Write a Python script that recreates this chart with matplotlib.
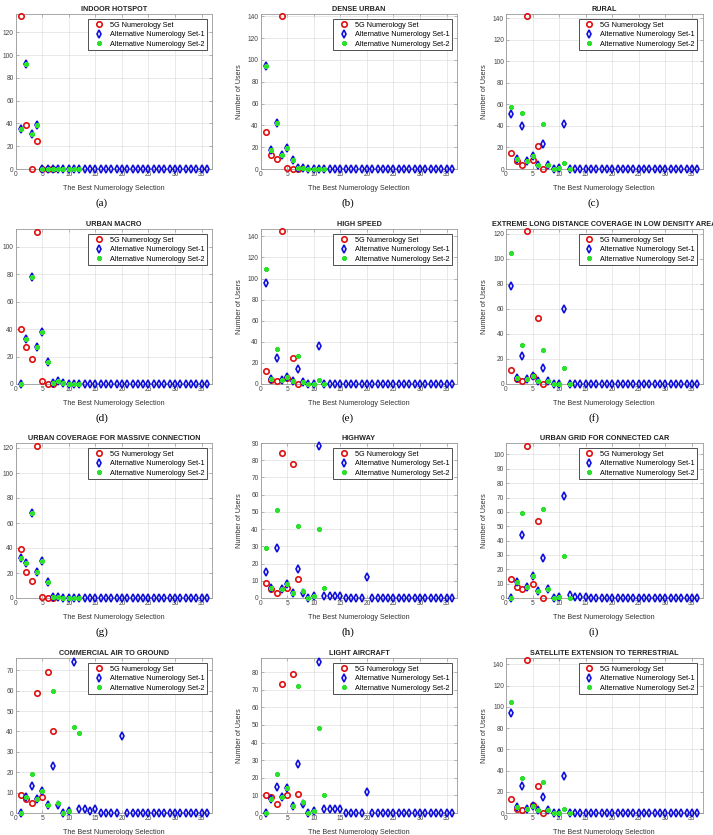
import matplotlib.pyplot as plt
import numpy as np
from matplotlib.ticker import MultipleLocator

plt.rcParams['font.family'] = ['Liberation Sans', 'DejaVu Sans']

# Titulos de cada escenario
titles = ['INDOOR HOTSPOT', 'DENSE URBAN', 'RURAL',
          'URBAN MACRO', 'HIGH SPEED',
          'EXTREME LONG DISTANCE COVERAGE IN LOW DENSITY AREA',
          'URBAN COVERAGE FOR MASSIVE CONNECTION', 'HIGHWAY',
          'URBAN GRID FOR CONNECTED CAR',
          'COMMERCIAL AIR TO GROUND', 'LIGHT AIRCRAFT',
          'SATELLITE EXTENSION TO TERRESTRIAL']
captions = ['(a)', '(b)', '(c)', '(d)', '(e)', '(f)', '(g)', '(h)', '(i)']
series_names = ['5G Numerology Set', 'Alternative Numerology Set-1',
                'Alternative Numerology Set-2']

# (a) indoor hotspot
indoor_5g = [134, 39, 0, 25, 0, 0, 0]
indoor_set1 = [35, 92, 31, 39, 0, 0, 0, 0, 0, 0, 0, 0,
               0, 0, 0, 0, 0, 0, 0, 0, 0, 0, 0, 0,
               0, 0, 0, 0, 0, 0, 0, 0, 0, 0, 0, 0]
indoor_set2 = [35, 92, 31, 39, 0, 0, 0, 0, 0, 0, 0, 0]

# (b) dense urban
dense_5g = [34, 13, 9, 140, 1, 0, 0]
dense_set1 = [94, 17, 42, 13, 19, 8, 1, 1, 0, 0, 0, 0,
              0, 0, 0, 0, 0, 0, 0, 0, 0, 0, 0, 0,
              0, 0, 0, 0, 0, 0, 0, 0, 0, 0, 0, 0]
dense_set2 = [94, 17, 42, 13, 19, 8, 1, 1, 0, 0, 0, 0]

# (c) rural
rural_5g = [15, 7, 4, 142, 8, 21, 0]
rural_set1 = [51, 9, 40, 7, 12, 4, 23, 4, 0, 1, 42, 0,
              0, 0, 0, 0, 0, 0, 0, 0, 0, 0, 0, 0,
              0, 0, 0, 0, 0, 0, 0, 0, 0, 0, 0, 0]
rural_set2 = [58, 9, 52, 7, 12, 4, 42, 4, 0, 1, 6, 0]

# (d) urban macro
macro_5g = [40, 27, 18, 111, 2, 0, 0]
macro_set1 = [0, 33, 78, 27, 38, 16, 1, 2, 1, 0, 0, 0,
              0, 0, 0, 0, 0, 0, 0, 0, 0, 0, 0, 0,
              0, 0, 0, 0, 0, 0, 0, 0, 0, 0, 0, 0]
macro_set2 = [0, 33, 78, 27, 38, 16, 1, 2, 1, 0, 0, 0]

# (e) high speed
speed_5g = [12, 4, 3, 145, 6, 25, 0]
speed_set1 = [96, 5, 25, 4, 7, 3, 14, 2, 0, 0, 36, 0,
              0, 0, 0, 0, 0, 0, 0, 0, 0, 0, 0, 0,
              0, 0, 0, 0, 0, 0, 0, 0, 0, 0, 0, 0]
speed_set2 = [109, 5, 33, 4, 7, 3, 27, 2, 0, 0, 4, 0]

# (f) extreme long distance
extreme_5g = [11, 4, 2, 122, 6, 53, 0]
extreme_set1 = [78, 5, 22, 4, 6, 2, 13, 2, 0, 0, 60, 0,
                0, 0, 0, 0, 0, 0, 0, 0, 0, 0, 0, 0,
                0, 0, 0, 0, 0, 0, 0, 0, 0, 0, 0, 0]
extreme_set2 = [105, 5, 31, 4, 6, 2, 27, 2, 0, 0, 13, 0]

# (g) urban coverage for massive connection
massive_5g = [39, 21, 14, 122, 1, 0, 0]
massive_set1 = [32, 28, 68, 21, 30, 13, 1, 1, 0, 0, 0, 0,
                0, 0, 0, 0, 0, 0, 0, 0, 0, 0, 0, 0,
                0, 0, 0, 0, 0, 0, 0, 0, 0, 0, 0, 0]
massive_set2 = [32, 28, 68, 21, 30, 13, 1, 1, 0, 0, 0, 0]

# (h) highway
highway_5g = [9, 5, 3, 84, 6, 78, 11]
highway_set1 = [15, 6, 29, 5, 8, 3, 17, 3, 0, 1, 88, 1,
                1, 1, 1, 0, 0, 0, 0, 12, 0, 0, 0, 0,
                0, 0, 0, 0, 0, 0, 0, 0, 0, 0, 0, 0]
highway_set2 = [29, 6, 51, 5, 8, 3, 42, 4, 0, 1, 40, 6]

# (i) urban grid for connected car
grid_5g = [13, 8, 6, 106, 10, 54, 0]
grid_set1 = [0, 11, 44, 8, 15, 5, 28, 6, 0, 1, 71, 2,
             1, 1, 1, 0, 0, 0, 0, 0, 0, 0, 0, 0,
             0, 0, 0, 0, 0, 0, 0, 0, 0, 0, 0, 0]
grid_set2 = [0, 11, 59, 8, 15, 5, 62, 6, 0, 1, 29, 0]

# (j) commercial air to ground
air_5g = [9, 7, 5, 59, 8, 69, 40]
air_set1 = [0, 8, 13, 7, 11, 4, 23, 4, 0, 1, 74, 2,
            2, 1, 2, 0, 0, 0, 0, 38, 0, 0, 0, 0,
            0, 0, 0, 0, 0, 0, 0, 0, 0, 0, 0, 0]
air_set2 = [0, 8, 19, 7, 11, 4, 60, 5, 0, 1, 42, 39]

# (k) light aircraft
light_5g = [10, 9, 5, 73, 10, 79, 11]
light_set1 = [0, 8, 15, 9, 14, 4, 28, 5, 0, 1, 86, 2,
              2, 2, 2, 0, 0, 0, 0, 12, 0, 0, 0, 0,
              0, 0, 0, 0, 0, 0, 0, 0, 0, 0, 0, 0]
light_set2 = [0, 8, 22, 9, 14, 4, 72, 6, 0, 1, 48, 10]

# (l) satellite extension to terrestrial
sat_5g = [13, 4, 3, 144, 8, 25, 0]
sat_set1 = [94, 6, 25, 4, 7, 3, 15, 3, 0, 0, 35, 0,
            0, 0, 0, 0, 0, 0, 0, 0, 0, 0, 0, 0,
            0, 0, 0, 0, 0, 0, 0, 0, 0, 0, 0, 0]
sat_set2 = [105, 6, 33, 4, 7, 3, 29, 3, 0, 0, 4, 0]

panels = [
    (indoor_5g, indoor_set1, indoor_set2),
    (dense_5g, dense_set1, dense_set2),
    (rural_5g, rural_set1, rural_set2),
    (macro_5g, macro_set1, macro_set2),
    (speed_5g, speed_set1, speed_set2),
    (extreme_5g, extreme_set1, extreme_set2),
    (massive_5g, massive_set1, massive_set2),
    (highway_5g, highway_set1, highway_set2),
    (grid_5g, grid_set1, grid_set2),
    (air_5g, air_set1, air_set2),
    (light_5g, light_set1, light_set2),
    (sat_5g, sat_set1, sat_set2),
]

# Geometria en pixeles (figura 713x835)
W, H = 713, 835
col_left = [15.7, 260.7, 506]
row_top = [14, 229, 443, 658]
ax_w, ax_h = 196.5, 155
cap_x = [102, 348, 594]

fig = plt.figure(figsize=(W / 100, H / 100), dpi=100)

for i, (v5g, v1, v2) in enumerate(panels):
    r, c = divmod(i, 3)
    ax = fig.add_axes([col_left[c] / W, 1 - (row_top[r] + ax_h) / H,
                       ax_w / W, ax_h / H])

    ax.plot(np.arange(1, len(v5g) + 1), v5g, linestyle='none', marker='o',
            ms=3.9, mfc='none', mec='#e01010', mew=1.2, clip_on=False,
            label=series_names[0], zorder=3)
    ax.plot(np.arange(1, len(v1) + 1), v1, linestyle='none', marker='d',
            ms=4.2, mfc='none', mec='#1010d8', mew=1.2, clip_on=False,
            label=series_names[1], zorder=4)
    ax.plot(np.arange(1, len(v2) + 1), v2, linestyle='none', marker=(8, 2, 0),
            ms=3.4, mec='#2ee02e', mew=1.0, clip_on=False,
            label=series_names[2], zorder=5)

    ymax = max(max(v5g), max(v1), max(v2)) + 2
    ax.set_xlim(0, 37)
    ax.set_ylim(0, ymax)
    ax.xaxis.set_major_locator(MultipleLocator(5))
    ax.yaxis.set_major_locator(MultipleLocator(10 if ymax < 110 else 20))

    ax.grid(True, color='#e0e0e0', lw=0.5)
    ax.set_axisbelow(True)
    for s in ax.spines.values():
        s.set_color('#9a9a9a')
        s.set_linewidth(0.6)
    ax.tick_params(direction='in', length=2, width=0.5, colors='#9a9a9a',
                   labelcolor='#444444', labelsize=4.8, pad=1.5,
                   top=True, right=True)

    ax.set_title(titles[i], fontsize=5.2, fontweight='bold', pad=2.5,
                 color='#222222')
    ax.set_xlabel('The Best Numerology Selection', fontsize=5.2,
                  color='#333333')
    ax.set_ylabel('Number of Users', fontsize=5.2, color='#333333')
    ax.xaxis.set_label_coords(0.5, -16 / ax_h)
    ax.yaxis.set_label_coords(-17.7 / ax_w, 0.5)

    leg = ax.legend(loc='upper right', fontsize=5.2, numpoints=1,
                    fancybox=False, framealpha=1, edgecolor='#333333',
                    borderpad=0.3, labelspacing=0.35, handlelength=2.4,
                    handletextpad=0.3, borderaxespad=0.75)
    leg.get_frame().set_linewidth(0.6)

    if i < len(captions):
        fig.text(cap_x[c] / W, 1 - (row_top[r] + ax_h + 34) / H, captions[i],
                 ha='center', va='center', fontsize=8,
                 family='Liberation Serif')

fig.savefig('out.png', dpi=100)
